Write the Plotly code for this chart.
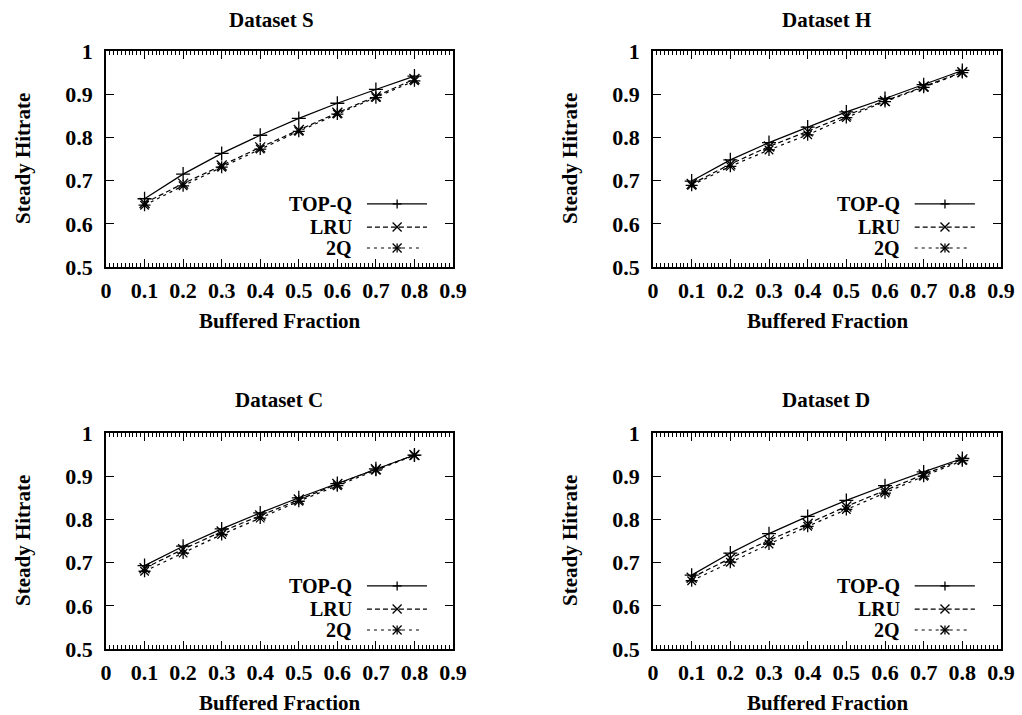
import plotly.graph_objects as go

# ---------------- data ----------------
fractions = [0.1, 0.2, 0.3, 0.4, 0.5, 0.6, 0.7, 0.8]
x_tick_vals = [0, 0.1, 0.2, 0.3, 0.4, 0.5, 0.6, 0.7, 0.8, 0.9]
x_tick_text = ["0", "0.1", "0.2", "0.3", "0.4", "0.5", "0.6", "0.7", "0.8", "0.9"]
y_tick_vals = [0.5, 0.6, 0.7, 0.8, 0.9, 1.0]
y_tick_text = ["0.5", "0.6", "0.7", "0.8", "0.9", "1"]

datasets = ["Dataset S", "Dataset H", "Dataset C", "Dataset D"]
series_names = ["TOP-Q", "LRU", "2Q"]

s_topq = [0.658, 0.715, 0.763, 0.805, 0.844, 0.879, 0.911, 0.942]
s_lru = [0.648, 0.693, 0.735, 0.777, 0.817, 0.857, 0.895, 0.935]
s_2q = [0.643, 0.688, 0.731, 0.773, 0.814, 0.854, 0.892, 0.931]

h_topq = [0.699, 0.748, 0.788, 0.824, 0.859, 0.890, 0.922, 0.955]
h_lru = [0.692, 0.738, 0.779, 0.814, 0.851, 0.884, 0.918, 0.951]
h_2q = [0.689, 0.733, 0.771, 0.806, 0.846, 0.883, 0.916, 0.950]

c_topq = [0.693, 0.738, 0.778, 0.815, 0.850, 0.883, 0.917, 0.949]
c_lru = [0.687, 0.731, 0.772, 0.809, 0.846, 0.882, 0.916, 0.949]
c_2q = [0.680, 0.722, 0.765, 0.803, 0.842, 0.878, 0.914, 0.948]

d_topq = [0.671, 0.722, 0.767, 0.807, 0.844, 0.878, 0.910, 0.941]
d_lru = [0.665, 0.710, 0.752, 0.790, 0.830, 0.867, 0.904, 0.939]
d_2q = [0.658, 0.701, 0.743, 0.784, 0.823, 0.861, 0.900, 0.936]

all_values = [
    [s_topq, s_lru, s_2q],
    [h_topq, h_lru, h_2q],
    [c_topq, c_lru, c_2q],
    [d_topq, d_lru, d_2q],
]

# ---------------- styling ----------------
W, H = 1022, 715
FAMILY = "Liberation Serif, Times New Roman, serif"
FONT = dict(family=FAMILY, size=21, color="black", weight="bold")
TICKFONT = dict(family=FAMILY, size=22, color="black", weight="bold")
KEYFONT = dict(family=FAMILY, size=20, color="black", weight="bold")
symbols = ["cross-thin-open", "x-thin-open", "asterisk-open"]
dashes = ["solid", "5px,3px", "3px,4px"]

# plot frames in pixels: (left, right, top, bottom)
frames = [(106, 453, 51, 267), (653, 1001, 51, 267), (106, 453, 433, 649), (653, 1001, 433, 649)]
title_x = [271, 826, 279, 826]
title_y = [20, 20, 400, 400]

fig = go.Figure()
annotations = []
shapes = []

for i, (name, vals) in enumerate(zip(datasets, all_values)):
    l, r, t, b = frames[i]
    xa = "x" if i == 0 else f"x{i+1}"
    ya = "y" if i == 0 else f"y{i+1}"
    xkey = "xaxis" if i == 0 else f"xaxis{i+1}"
    ykey = "yaxis" if i == 0 else f"yaxis{i+1}"
    for j, (sname, v) in enumerate(zip(series_names, vals)):
        fig.add_trace(go.Scatter(
            x=fractions, y=v, mode="lines+markers", name=sname,
            xaxis=xa, yaxis=ya, showlegend=False,
            line=dict(color="black", width=1.2, dash=dashes[j]),
            marker=dict(symbol=symbols[j], size=10, color="black",
                        line=dict(color="black", width=1.3)),
        ))
    axis_common = dict(
        showgrid=False, zeroline=False, showline=True, linecolor="black", linewidth=1.6,
        mirror="ticks", ticks="inside", tickcolor="black", tickwidth=1.2, ticklen=8,
        tickfont=TICKFONT, automargin=False,
    )
    fig.layout[xkey] = dict(
        axis_common, domain=[l / W, r / W], range=[0, 0.9], anchor=ya,
        tickmode="array", tickvals=x_tick_vals, ticktext=x_tick_text,
        minor=dict(ticks="inside", dtick=0.01, ticklen=4, tickcolor="black", tickwidth=1),
        ticklabelstandoff=3,
    )
    fig.layout[ykey] = dict(
        axis_common, domain=[1 - b / H, 1 - t / H], range=[0.5, 1.0], anchor=xa,
        tickmode="array", tickvals=y_tick_vals, ticktext=y_tick_text,
        ticklabelstandoff=7,
    )
    # titles and axis labels
    annotations.append(dict(text=name, x=title_x[i] / W, y=1 - title_y[i] / H, xref="paper", yref="paper",
                            showarrow=False, xanchor="center", yanchor="middle", font=FONT))
    annotations.append(dict(text="Buffered Fraction", x=(l + r) / 2 / W, y=1 - (b + 54) / H, xref="paper",
                            yref="paper", showarrow=False, xanchor="center", yanchor="middle", font=FONT))
    annotations.append(dict(text="Steady Hitrate", x=(l - 83) / W, y=1 - (t + b) / 2 / H, xref="paper",
                            yref="paper", showarrow=False, xanchor="center", yanchor="middle",
                            textangle=-90, font=FONT))
    # custom gnuplot-style key (text then sample)
    xd, yd = f"{xa} domain", f"{ya} domain"
    pw, ph = r - l, b - t
    rows = [0.292, 0.185, 0.088]
    for j, sname in enumerate(series_names):
        yy = rows[j]
        annotations.append(dict(text=sname, x=0.716, y=yy, xref=xd, yref=yd, showarrow=False,
                                xanchor="right", yanchor="middle", font=KEYFONT))
        x_end = 0.925 if j < 2 else 0.912
        shapes.append(dict(type="line", xref=xd, yref=yd, x0=0.752, x1=x_end, y0=yy, y1=yy,
                           line=dict(color="black", width=1.2, dash=dashes[j])))
        mx = 0.839
        hx, hy = 4.5 / pw, 4.5 / ph
        segs = []
        if j in (0, 2):
            segs += [(mx - hx, yy, mx + hx, yy), (mx, yy - hy, mx, yy + hy)]
        if j in (1, 2):
            segs += [(mx - hx, yy - hy, mx + hx, yy + hy), (mx - hx, yy + hy, mx + hx, yy - hy)]
        for (x0, y0, x1, y1) in segs:
            shapes.append(dict(type="line", xref=xd, yref=yd, x0=x0, x1=x1, y0=y0, y1=y1,
                               line=dict(color="black", width=1.3)))

fig.update_layout(
    width=W, height=H, margin=dict(l=0, r=0, t=0, b=0, autoexpand=False),
    paper_bgcolor="white", plot_bgcolor="white",
    annotations=annotations, shapes=shapes, showlegend=False, font=FONT,
)

fig.write_html("out.html")
